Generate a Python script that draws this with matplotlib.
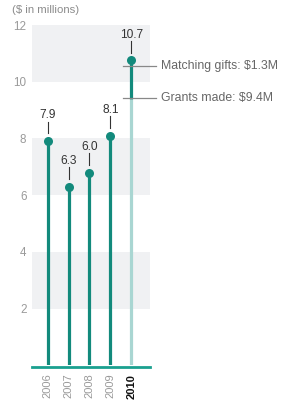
import matplotlib
matplotlib.use("Agg")
import matplotlib.pyplot as plt

years = ["2006", "2007", "2008", "2009", "2010"]
values = [7.9, 6.3, 6.8, 8.1, 10.75]
value_labels = ["7.9", "6.3", "6.0", "8.1", "10.7"]
grants_2010 = 9.4
matching_2010 = 1.3
yticks = [2, 4, 6, 8, 10, 12]

DARK = "#138a7c"
LIGHT = "#a9d6d2"
BASE = "#1aa08f"
BAND = "#f0f1f3"
GRAY = "#8c8c8c"
FONT = "Liberation Sans"

fig = plt.figure(figsize=(2.96, 4.0), dpi=100)
ax = fig.add_axes([0.108, 0.0865, 0.399, 0.851])
ax.set_xlim(-0.75, 4.9)
ax.set_ylim(0, 12)

# alternating grey bands
for lo in (2, 6, 10):
    ax.axhspan(lo, lo + 2, color=BAND, lw=0, zorder=0)

x = list(range(len(years)))
last = len(values) - 1
for i, v in enumerate(values):
    if i < last:
        ax.plot([i, i], [0, v], color=DARK, lw=2.3, solid_capstyle="butt", zorder=2)
    else:
        ax.plot([i, i], [0, grants_2010], color=LIGHT, lw=2.3, solid_capstyle="butt", zorder=2)
        ax.plot([i, i], [grants_2010, v], color=DARK, lw=2.3, solid_capstyle="butt", zorder=2)
    ax.plot(i, v, "o", color=DARK, ms=6.5, mec="none", zorder=3)
    # value label with little leader line
    ax.plot([i, i], [v + 0.28, v + 0.68], color="#333333", lw=0.8, zorder=3)
    ax.text(i, v + 0.7, value_labels[i], ha="center", va="bottom",
            fontsize=8.6, color="#333333", family=FONT)

# annotations for 2010 split
for yv, txt in [(grants_2010 + matching_2010 - 0.15, f"Matching gifts: ${matching_2010}M"),
                (grants_2010 + 0.04, f"Grants made: ${grants_2010}M")]:
    ax.plot([last - 0.4, last + 1.2], [yv, yv], color="#888888", lw=0.9,
            zorder=4, clip_on=False)
    ax.text(last + 1.4, yv, txt, ha="left", va="center", fontsize=8.8,
            color="#666666", family=FONT, clip_on=False)

ax.axhline(-0.05, color=BASE, lw=2.0, zorder=3, clip_on=False)

for s in ax.spines.values():
    s.set_visible(False)
ax.set_yticks(yticks)
ax.set_yticklabels([str(t) for t in yticks], fontsize=8.4, color="#9a9a9a",
                   family=FONT)
ax.tick_params(axis="y", length=0, pad=4)
ax.set_xticks(x)
ax.set_xticklabels(years, rotation=90, fontsize=8.0, family=FONT)
ax.tick_params(axis="x", length=0, pad=6)
for i, lab in enumerate(ax.get_xticklabels()):
    if i == last:
        lab.set_color("#111111")
        lab.set_fontweight("bold")
    else:
        lab.set_color("#9a9a9a")

fig.text(12 / 296, 1 - 10 / 400, "($ in millions)", ha="left", va="center",
         fontsize=8.2, color="#8c8c8c", family=FONT)

fig.savefig("out.png", dpi=100)
